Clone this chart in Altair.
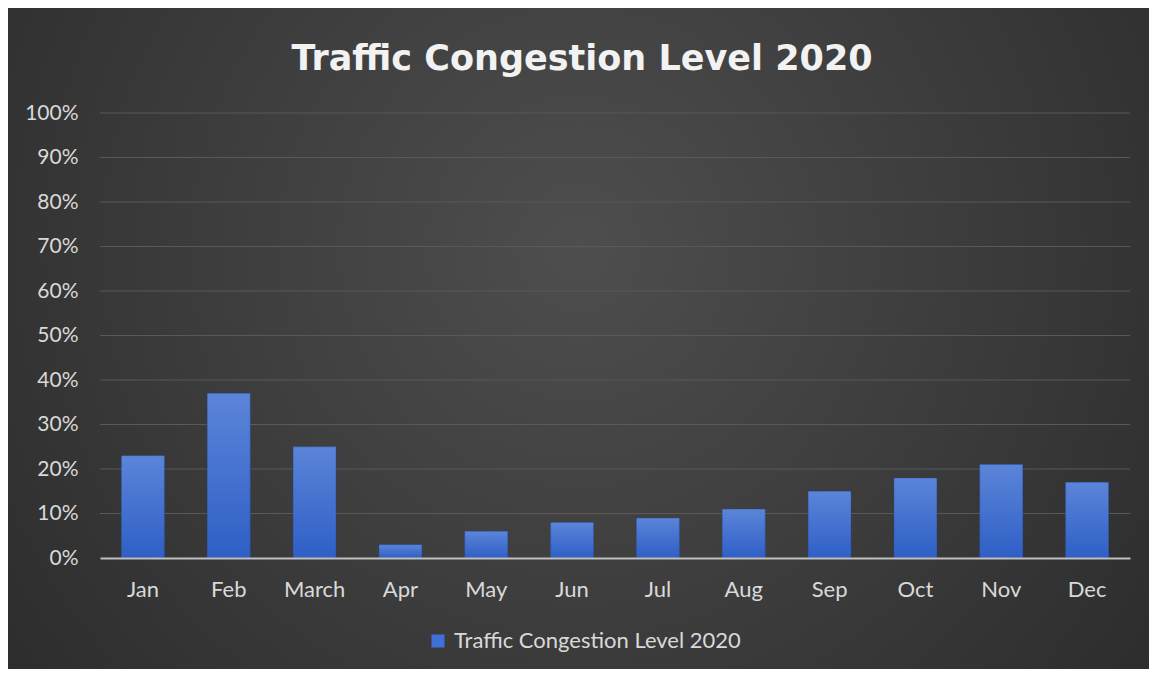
import altair as alt
import pandas as pd

months = ["Jan", "Feb", "March", "Apr", "May", "Jun", "Jul", "Aug", "Sep", "Oct", "Nov", "Dec"]
congestion = [23, 37, 25, 3, 6, 8, 9, 11, 15, 18, 21, 17]
series_name = "Traffic Congestion Level 2020"
y_ticks = [0, 10, 20, 30, 40, 50, 60, 70, 80, 90, 100]

df = pd.DataFrame({"month": months, "value": congestion, "series": [series_name] * len(months)})
grid_df = pd.DataFrame({"value": y_ticks[1:]})

W, H = 1030, 445
PL, PT, PR, PB = 92, 105, 19, 111

bg = alt.Chart(alt.Data(values=[{}])).mark_rect(
    fill=alt.RadialGradient(
        gradient="radial", x1=0.5, y1=0.42, r1=0.0, x2=0.5, y2=0.42, r2=0.75,
        stops=[alt.GradientStop(offset=0, color="#4e4e4e"),
               alt.GradientStop(offset=1, color="#262626")],
    )
).encode(
    x=alt.value(-PL), x2=alt.value(W + PR), y=alt.value(-PT), y2=alt.value(H + PB)
)

y_scale = alt.Scale(domain=[0, 100], nice=False)

x_enc = alt.X("month:N", sort=months, scale=alt.Scale(paddingInner=0.5, paddingOuter=0.25),
              axis=alt.Axis(title=None, labelAngle=0, labelFont="Lato", labelFontSize=22,
                            labelColor="#d9d9d9", labelPadding=21, ticks=False,
                            domainColor="#bfbfbf", domainWidth=2, grid=False, zindex=1))
y_enc = alt.Y("value:Q", scale=y_scale,
              axis=alt.Axis(title=None, values=y_ticks, labelExpr="datum.value + '%'",
                            labelFont="Lato", labelFontSize=21, labelColor="#d9d9d9",
                            labelPadding=22, ticks=False, domain=False, grid=False, zindex=1))

grid = alt.Chart(grid_df).mark_rule(color="#595959", strokeWidth=1).encode(
    y=y_enc, x=alt.value(0), x2=alt.value(W),
)

bars_legend = alt.Chart(df).mark_bar(color="#4472c4").encode(
    x=x_enc, y=y_enc,
    color=alt.Color("series:N", scale=alt.Scale(range=["#3f6fd8"]),
                    legend=alt.Legend(title=None, orient="none", legendX=327, legendY=517,
                                      symbolType="square", symbolSize=170, symbolStrokeWidth=0,
                                      labelFont="Lato", labelFontSize=22, labelColor="#d9d9d9",
                                      labelOffset=5, labelLimit=0, zindex=1)),
)

bars = alt.Chart(df).mark_bar(
    fill=alt.LinearGradient(
        gradient="linear", x1=0, y1=0, x2=0, y2=1,
        stops=[alt.GradientStop(offset=0, color="#5b85d9"),
               alt.GradientStop(offset=1, color="#2f5fc6")],
    ),
    stroke="#1f3f80", strokeOpacity=0.35, strokeWidth=1,
).encode(x=x_enc, y=y_enc)

title = alt.Chart(alt.Data(values=[{}])).mark_text(
    text=series_name, font="DejaVu Sans", fontSize=35, fontWeight="bold", color="#f2f2f2",
    align="center", baseline="alphabetic",
).encode(x=alt.value(482), y=alt.value(-43))

chart = alt.layer(bg, grid, bars_legend, bars, title).properties(
    width=W, height=H,
    padding={"left": PL, "top": PT, "right": PR, "bottom": PB},
    autosize=alt.AutoSizeParams(type="none"),
    background="#2a2a2a",
).configure_view(stroke=None)

chart.save("out.html", embed_options={"renderer": "svg", "actions": False})
